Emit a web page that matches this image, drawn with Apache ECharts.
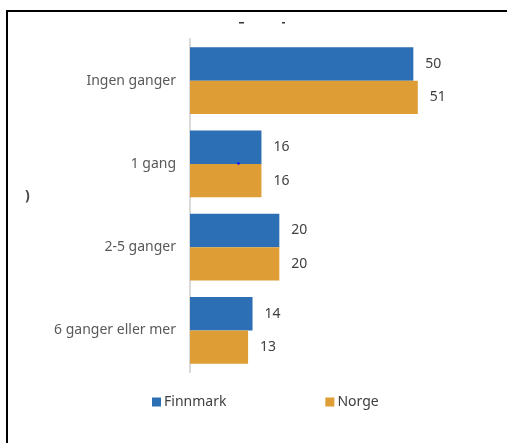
<!DOCTYPE html>
<html>
<head>
<meta charset="utf-8">
<script src="https://cdn.jsdelivr.net/npm/echarts@6/dist/echarts.min.js"></script>
<style>
html,body{margin:0;padding:0;background:#fff;}
#chart{width:507px;height:443px;}
</style>
</head>
<body>
<div id="chart"></div>
<script>
var categories = ['Ingen ganger', '1 gang', '2-5 ganger', '6 ganger eller mer'];
var finnmark = [50, 16, 20, 14];
var norge = [51, 16, 20, 13];
var seriesNames = ['Finnmark', 'Norge'];

var chart = echarts.init(document.getElementById('chart'), null, {renderer: 'canvas'});
var font = '"Noto Sans", "Open Sans", sans-serif';
var labelStyle = {show: true, position: 'right', distance: 12, color: '#404040', fontSize: 14, fontFamily: font};
chart.setOption({
  animation: false,
  backgroundColor: '#ffffff',
  grid: {left: 190, right: 49, top: 39, bottom: 71, containLabel: false},
  legend: {
    data: seriesNames,
    left: 147, top: 390,
    itemWidth: 9, itemHeight: 9, itemGap: 99,
    icon: 'rect',
    textStyle: {color: '#404040', fontSize: 14, fontFamily: font, padding: [0, 0, 0, -2]}
  },
  xAxis: {
    type: 'value', min: 0, max: 60,
    show: false
  },
  yAxis: {
    type: 'category', inverse: true, data: categories,
    axisLine: {show: true, lineStyle: {color: '#d9d9d9', width: 2}},
    axisTick: {show: false},
    axisLabel: {color: '#595959', fontSize: 14, fontFamily: font, margin: 14}
  },
  series: [
    {name: seriesNames[0], type: 'bar', data: finnmark, barGap: '0%', barCategoryGap: '20%',
     itemStyle: {color: '#2D6FB4'}, label: labelStyle},
    {name: seriesNames[1], type: 'bar', data: norge,
     itemStyle: {color: '#DF9D36'}, label: labelStyle}
  ],
  graphic: [
    {type: 'rect', shape: {x: 6, y: 10, width: 501, height: 2}, style: {fill: '#000'}, z: 10},
    {type: 'rect', shape: {x: 6, y: 10, width: 2, height: 433}, style: {fill: '#000'}, z: 10},
    {type: 'rect', shape: {x: 239, y: 22, width: 5, height: 1.5}, style: {fill: '#333'}},
    {type: 'rect', shape: {x: 282, y: 22, width: 3, height: 1.5}, style: {fill: '#333'}},
    {type: 'text', left: 25, top: 189, style: {text: ')', fill: '#444', fontSize: 14, fontWeight: 'bold', fontFamily: font}},
    {type: 'circle', shape: {cx: 238.5, cy: 163.5, r: 1.3}, style: {fill: '#1010ff'}, z: 20}
  ]
});
</script>
</body>
</html>
